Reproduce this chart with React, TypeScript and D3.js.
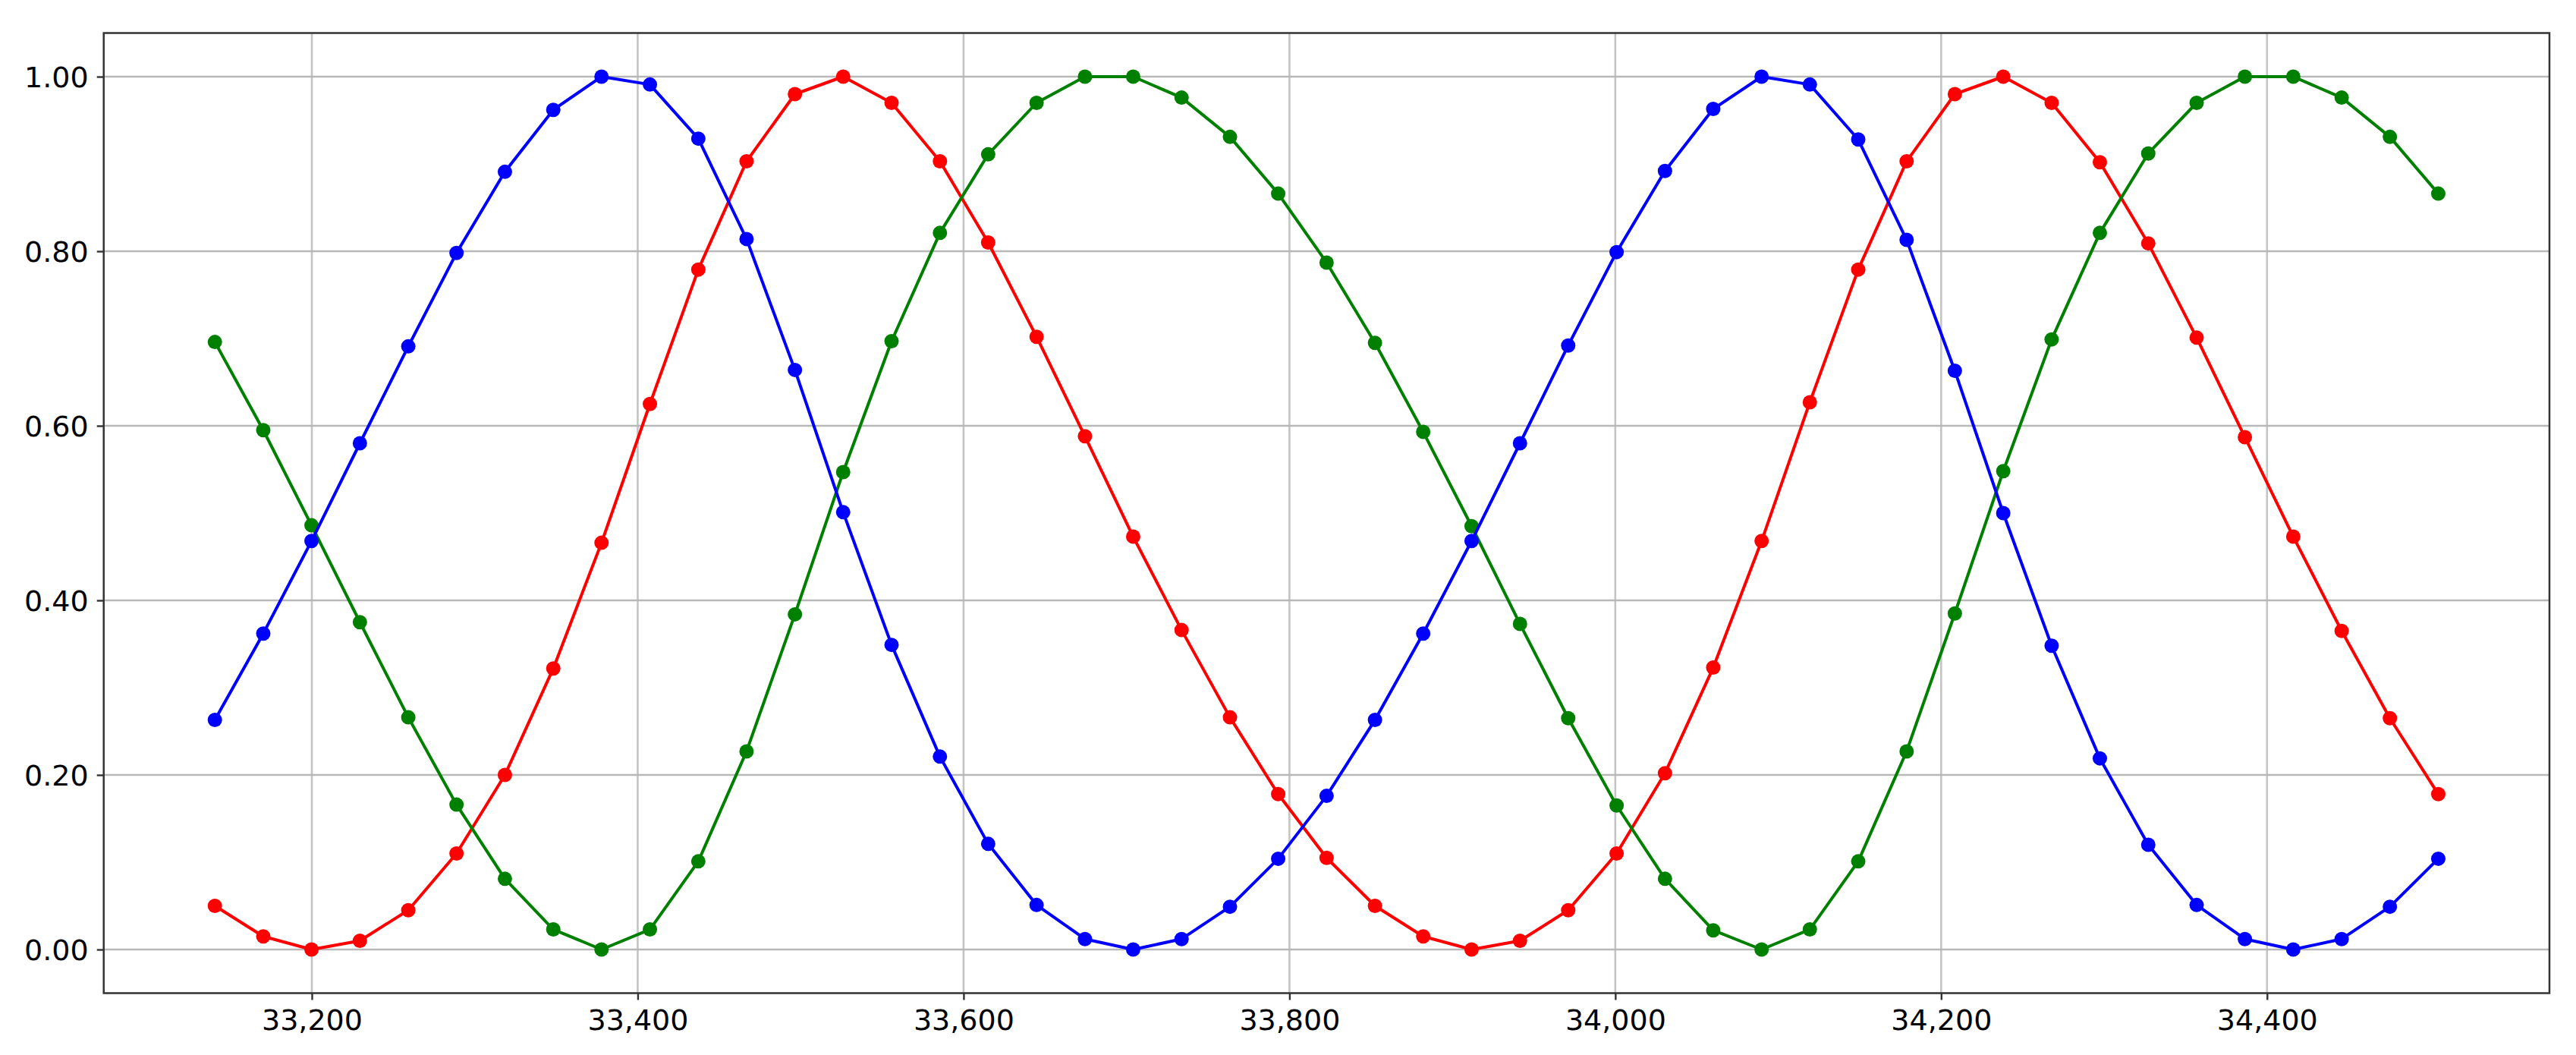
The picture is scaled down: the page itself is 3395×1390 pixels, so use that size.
import React, { useEffect, useRef } from 'react';
import * as d3 from 'd3';

const xValues = [
	33140.5, 33170.2, 33199.8, 33229.5, 33259.2, 33288.8, 33318.5, 33348.2, 33377.8, 33407.5,
	33437.2, 33466.8, 33496.5, 33526.1, 33555.8, 33585.5, 33615.1, 33644.8, 33674.5, 33704.1,
	33733.8, 33763.5, 33793.1, 33822.8, 33852.5, 33882.1, 33911.8, 33941.5, 33971.1, 34000.8,
	34030.5, 34060.1, 34089.8, 34119.4, 34149.1, 34178.8, 34208.4, 34238.1, 34267.8, 34297.4,
	34327.1, 34356.8, 34386.4, 34416.1, 34445.8, 34475.4, 34505.1,
];

const redValues = [
	0.050, 0.015, 0.000, 0.010, 0.045, 0.110, 0.200, 0.322, 0.466, 0.625,
	0.779, 0.903, 0.980, 1.000, 0.970, 0.903, 0.810, 0.702, 0.588, 0.473,
	0.366, 0.266, 0.178, 0.105, 0.050, 0.015, 0.000, 0.010, 0.045, 0.110,
	0.202, 0.323, 0.468, 0.627, 0.779, 0.903, 0.980, 1.000, 0.970, 0.902,
	0.809, 0.701, 0.587, 0.473, 0.365, 0.265, 0.178,
];

const greenValues = [
	0.696, 0.595, 0.486, 0.375, 0.266, 0.166, 0.081, 0.023, 0.000, 0.023,
	0.101, 0.227, 0.384, 0.547, 0.697, 0.821, 0.911, 0.970, 1.000, 1.000,
	0.976, 0.931, 0.866, 0.787, 0.695, 0.593, 0.485, 0.373, 0.265, 0.165,
	0.081, 0.022, 0.000, 0.023, 0.101, 0.227, 0.385, 0.548, 0.699, 0.821,
	0.912, 0.970, 1.000, 1.000, 0.976, 0.931, 0.866,
];

const blueValues = [
	0.263, 0.362, 0.468, 0.580, 0.691, 0.798, 0.891, 0.962, 1.000, 0.991,
	0.929, 0.814, 0.664, 0.501, 0.349, 0.221, 0.121, 0.051, 0.012, 0.000,
	0.012, 0.049, 0.104, 0.176, 0.263, 0.362, 0.468, 0.580, 0.692, 0.799,
	0.892, 0.963, 1.000, 0.991, 0.928, 0.813, 0.663, 0.500, 0.348, 0.219,
	0.120, 0.051, 0.012, 0.000, 0.012, 0.049, 0.104,
];

const seriesColors = ['#ff0000', '#008000', '#0000ff'];
const xTicks = [33200, 33400, 33600, 33800, 34000, 34200, 34400];
const yTicks = [0, 0.2, 0.4, 0.6, 0.8, 1.0];

const App = () => {
	const ref = useRef<SVGSVGElement>(null);

	useEffect(() => {
		const w = 3395;
		const h = 1390;
		const margin = { left: 136.7, right: 35, top: 43.5, bottom: 81.5 };

		const svg = d3.select(ref.current);
		svg.selectAll('*').remove();

		// matplotlib style 5% padding around the data
		const [xMin, xMax] = d3.extent(xValues) as [number, number];
		const xPad = (xMax - xMin) * 0.05;
		const x = d3
			.scaleLinear()
			.domain([xMin - xPad, xMax + xPad])
			.range([margin.left, w - margin.right]);

		const y = d3
			.scaleLinear()
			.domain([-0.05, 1.05])
			.range([h - margin.bottom, margin.top]);

		const grid = svg.append('g');
		grid
			.selectAll('line.v')
			.data(xTicks)
			.enter()
			.append('line')
			.attr('x1', d => x(d))
			.attr('x2', d => x(d))
			.attr('y1', margin.top)
			.attr('y2', h - margin.bottom)
			.attr('stroke', '#c4c4c4')
			.attr('stroke-width', 2.6);
		grid
			.selectAll('line.h')
			.data(yTicks)
			.enter()
			.append('line')
			.attr('x1', margin.left)
			.attr('x2', w - margin.right)
			.attr('y1', d => y(d))
			.attr('y2', d => y(d))
			.attr('stroke', '#b8b8b8')
			.attr('stroke-width', 2.4);

		const line = d3
			.line<number>()
			.x((d, i) => x(xValues[i]))
			.y(d => y(d));

		[redValues, greenValues, blueValues].forEach((values, k) => {
			const g = svg.append('g');
			g.append('path')
				.attr('d', line(values))
				.attr('fill', 'none')
				.attr('stroke', seriesColors[k])
				.attr('stroke-width', 4)
				.attr('stroke-linejoin', 'round');
			g.selectAll('circle')
				.data(values)
				.enter()
				.append('circle')
				.attr('cx', (d, i) => x(xValues[i]))
				.attr('cy', d => y(d))
				.attr('r', 9.5)
				.attr('fill', seriesColors[k]);
		});

		const xAxis = svg
			.append('g')
			.attr('transform', `translate(0,${h - margin.bottom})`)
			.call(
				d3.axisBottom(x)
					.tickValues(xTicks)
					.tickFormat(d3.format(','))
					.tickSize(9)
					.tickSizeOuter(0)
					.tickPadding(12.5)
			);

		const yAxis = svg
			.append('g')
			.attr('transform', `translate(${margin.left},0)`)
			.call(
				d3.axisLeft(y)
					.tickValues(yTicks)
					.tickFormat(d3.format('.2f'))
					.tickSize(9)
					.tickSizeOuter(0)
					.tickPadding(11)
			);
		yAxis.selectAll('.tick text').attr('dy', '0.36em');

		[xAxis, yAxis].forEach(ax => {
			ax.select('.domain').remove();
			ax.selectAll('.tick line').attr('stroke', '#333').attr('stroke-width', 2.4);
			ax.selectAll('.tick text')
				.attr('fill', '#000')
				.attr('font-family', 'DejaVu Sans')
				.attr('font-size', 38);
		});

		svg
			.append('rect')
			.attr('x', margin.left)
			.attr('y', margin.top)
			.attr('width', w - margin.right - margin.left)
			.attr('height', h - margin.bottom - margin.top)
			.attr('fill', 'none')
			.attr('stroke', '#333')
			.attr('stroke-width', 2.5);
	}, []);

	return (
		<svg
			ref={ref}
			width={3395}
			height={1390}
			style={{ position: 'absolute', left: 0, top: 0, background: '#fff' }}
		/>
	);
};

export default App;
